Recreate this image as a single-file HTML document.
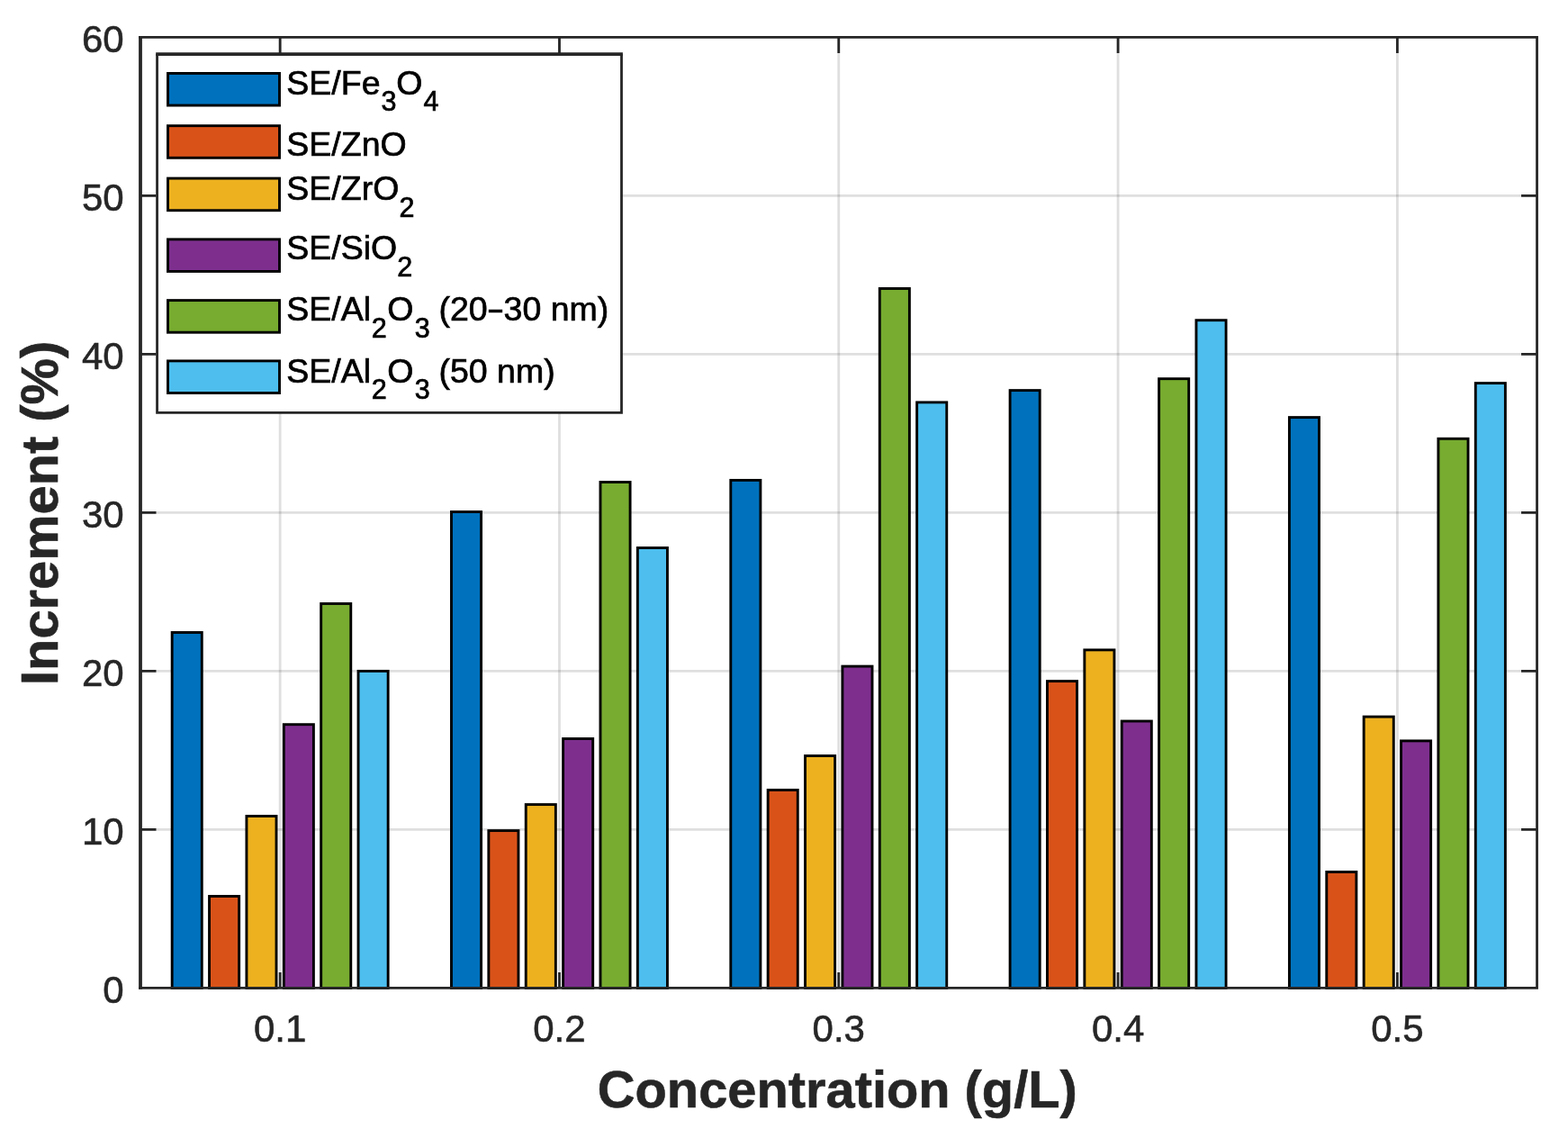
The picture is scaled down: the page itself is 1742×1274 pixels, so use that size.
<!DOCTYPE html>
<html><head><meta charset="utf-8"><title>Increment vs Concentration</title>
<style>html,body{margin:0;padding:0;background:#fff;}svg{display:block;}</style>
</head><body>
<svg width="1742" height="1274" viewBox="0 0 1742 1274">
<rect x="0" y="0" width="1742" height="1274" fill="#ffffff"/>
<path d="M311.15 41.45V1097.45M621.47 41.45V1097.45M931.77 41.45V1097.45M1242.09 41.45V1097.45M1552.39 41.45V1097.45" stroke="#262626" stroke-opacity="0.15" stroke-width="2.8" fill="none"/>
<path d="M156.00 921.45H1707.55M156.00 745.45H1707.55M156.00 569.45H1707.55M156.00 393.45H1707.55M156.00 217.45H1707.55" stroke="#262626" stroke-opacity="0.15" stroke-width="2.8" fill="none"/>
<rect x="191.17" y="702.50" width="33.10" height="394.95" fill="#0072BD" stroke="#000" stroke-width="2.9"/>
<rect x="232.54" y="995.50" width="33.10" height="101.95" fill="#D95319" stroke="#000" stroke-width="2.9"/>
<rect x="273.92" y="906.50" width="33.10" height="190.95" fill="#EDB120" stroke="#000" stroke-width="2.9"/>
<rect x="315.29" y="804.70" width="33.10" height="292.75" fill="#7E2F8E" stroke="#000" stroke-width="2.9"/>
<rect x="356.67" y="670.50" width="33.10" height="426.95" fill="#77AC30" stroke="#000" stroke-width="2.9"/>
<rect x="398.04" y="745.40" width="33.10" height="352.05" fill="#4DBEEE" stroke="#000" stroke-width="2.9"/>
<rect x="501.48" y="568.50" width="33.10" height="528.95" fill="#0072BD" stroke="#000" stroke-width="2.9"/>
<rect x="542.85" y="922.60" width="33.10" height="174.85" fill="#D95319" stroke="#000" stroke-width="2.9"/>
<rect x="584.23" y="893.60" width="33.10" height="203.85" fill="#EDB120" stroke="#000" stroke-width="2.9"/>
<rect x="625.60" y="820.50" width="33.10" height="276.95" fill="#7E2F8E" stroke="#000" stroke-width="2.9"/>
<rect x="666.98" y="535.50" width="33.10" height="561.95" fill="#77AC30" stroke="#000" stroke-width="2.9"/>
<rect x="708.35" y="608.50" width="33.10" height="488.95" fill="#4DBEEE" stroke="#000" stroke-width="2.9"/>
<rect x="811.79" y="533.40" width="33.10" height="564.05" fill="#0072BD" stroke="#000" stroke-width="2.9"/>
<rect x="853.16" y="877.50" width="33.10" height="219.95" fill="#D95319" stroke="#000" stroke-width="2.9"/>
<rect x="894.54" y="839.50" width="33.10" height="257.95" fill="#EDB120" stroke="#000" stroke-width="2.9"/>
<rect x="935.91" y="740.10" width="33.10" height="357.35" fill="#7E2F8E" stroke="#000" stroke-width="2.9"/>
<rect x="977.29" y="320.50" width="33.10" height="776.95" fill="#77AC30" stroke="#000" stroke-width="2.9"/>
<rect x="1018.66" y="446.90" width="33.10" height="650.55" fill="#4DBEEE" stroke="#000" stroke-width="2.9"/>
<rect x="1122.10" y="433.60" width="33.10" height="663.85" fill="#0072BD" stroke="#000" stroke-width="2.9"/>
<rect x="1163.47" y="756.60" width="33.10" height="340.85" fill="#D95319" stroke="#000" stroke-width="2.9"/>
<rect x="1204.85" y="721.90" width="33.10" height="375.55" fill="#EDB120" stroke="#000" stroke-width="2.9"/>
<rect x="1246.22" y="801.00" width="33.10" height="296.45" fill="#7E2F8E" stroke="#000" stroke-width="2.9"/>
<rect x="1287.60" y="420.70" width="33.10" height="676.75" fill="#77AC30" stroke="#000" stroke-width="2.9"/>
<rect x="1328.97" y="355.70" width="33.10" height="741.75" fill="#4DBEEE" stroke="#000" stroke-width="2.9"/>
<rect x="1432.41" y="463.60" width="33.10" height="633.85" fill="#0072BD" stroke="#000" stroke-width="2.9"/>
<rect x="1473.78" y="968.50" width="33.10" height="128.95" fill="#D95319" stroke="#000" stroke-width="2.9"/>
<rect x="1515.16" y="796.10" width="33.10" height="301.35" fill="#EDB120" stroke="#000" stroke-width="2.9"/>
<rect x="1556.53" y="822.90" width="33.10" height="274.55" fill="#7E2F8E" stroke="#000" stroke-width="2.9"/>
<rect x="1597.91" y="487.30" width="33.10" height="610.15" fill="#77AC30" stroke="#000" stroke-width="2.9"/>
<rect x="1639.28" y="425.60" width="33.10" height="671.85" fill="#4DBEEE" stroke="#000" stroke-width="2.9"/>
<path d="M311.15 1097.45V1079.95M311.15 41.45V58.95M621.47 1097.45V1079.95M621.47 41.45V58.95M931.77 1097.45V1079.95M931.77 41.45V58.95M1242.09 1097.45V1079.95M1242.09 41.45V58.95M1552.39 1097.45V1079.95M1552.39 41.45V58.95M156.00 921.45H173.50M1707.55 921.45H1690.05M156.00 745.45H173.50M1707.55 745.45H1690.05M156.00 569.45H173.50M1707.55 569.45H1690.05M156.00 393.45H173.50M1707.55 393.45H1690.05M156.00 217.45H173.50M1707.55 217.45H1690.05" stroke="#262626" stroke-width="2.8" fill="none"/>
<path d="M156.00 40.05V1098.85" stroke="#262626" stroke-width="3.8" fill="none"/>
<path d="M1707.55 40.05V1098.85M154.10 41.45H1708.95M154.10 1097.45H1708.95" stroke="#262626" stroke-width="2.8" fill="none"/>
<g font-family="'Liberation Sans', sans-serif" font-size="42" fill="#262626" stroke="#262626" stroke-width="0.6">
<text x="137.7" y="1113.75" text-anchor="end">0</text>
<text x="137.7" y="937.75" text-anchor="end">10</text>
<text x="137.7" y="761.75" text-anchor="end">20</text>
<text x="137.7" y="585.75" text-anchor="end">30</text>
<text x="137.7" y="409.75" text-anchor="end">40</text>
<text x="137.7" y="233.75" text-anchor="end">50</text>
<text x="137.7" y="57.75" text-anchor="end">60</text>
<text x="311.15" y="1156.85" text-anchor="middle">0.1</text>
<text x="621.47" y="1156.85" text-anchor="middle">0.2</text>
<text x="931.77" y="1156.85" text-anchor="middle">0.3</text>
<text x="1242.09" y="1156.85" text-anchor="middle">0.4</text>
<text x="1552.39" y="1156.85" text-anchor="middle">0.5</text>
</g>
<g font-family="'Liberation Sans', sans-serif" font-size="57.8" font-weight="bold" fill="#262626" stroke="#262626" stroke-width="0.6">
<text x="930.3" y="1229.9" text-anchor="middle">Concentration (g/L)</text>
<text transform="translate(63.9 569.9) rotate(-90)" x="0" y="0" text-anchor="middle">Increment (%)</text>
</g>
<rect x="174.55" y="60.1" width="515.95" height="398.30" fill="#fff"/>
<path d="M173.15 60.10H691.90" stroke="#262626" stroke-width="3.8" fill="none"/>
<path d="M174.55 60.10V459.80M690.50 60.10V459.80M173.15 458.40H691.90" stroke="#262626" stroke-width="2.8" fill="none"/>
<rect x="186.5" y="81.45" width="124.00" height="35.60" fill="#0072BD" stroke="#000" stroke-width="2.9"/>
<rect x="186.5" y="139.70" width="124.00" height="35.60" fill="#D95319" stroke="#000" stroke-width="2.9"/>
<rect x="186.5" y="198.10" width="124.00" height="35.60" fill="#EDB120" stroke="#000" stroke-width="2.9"/>
<rect x="186.5" y="265.85" width="124.00" height="35.60" fill="#7E2F8E" stroke="#000" stroke-width="2.9"/>
<rect x="186.5" y="333.60" width="124.00" height="35.60" fill="#77AC30" stroke="#000" stroke-width="2.9"/>
<rect x="186.5" y="400.90" width="124.00" height="35.60" fill="#4DBEEE" stroke="#000" stroke-width="2.9"/>
<g font-family="'Liberation Sans', sans-serif" fill="#000" stroke="#000" stroke-width="0.7" xml:space="preserve"><text font-size="37.5"><tspan x="318.30" y="104.90">SE/Fe</tspan><tspan x="423.54" y="123.40" font-size="30.5">3</tspan><tspan x="440.22" y="104.90">O</tspan><tspan x="470.50" y="123.40" font-size="30.5">4</tspan></text><text font-size="37.5"><tspan x="318.30" y="172.80">SE/ZnO</tspan></text><text font-size="37.5"><tspan x="318.30" y="222.20">SE/ZrO</tspan><tspan x="443.47" y="241.00" font-size="30.5">2</tspan></text><text font-size="37.5"><tspan x="318.30" y="287.90">SE/SiO</tspan><tspan x="441.37" y="307.00" font-size="30.5">2</tspan></text><text font-size="37.5"><tspan x="318.30" y="356.00">SE/Al</tspan><tspan x="412.67" y="374.70" font-size="30.5">2</tspan><tspan x="430.22" y="356.00">O</tspan><tspan x="460.84" y="374.70" font-size="30.5">3 </tspan><tspan x="487.48" y="356.00">(20</tspan></text><text x="540.75" y="354.90" font-size="37.5" textLength="19.5" lengthAdjust="spacingAndGlyphs">-</text><text font-size="37.5"><tspan x="559.57" y="356.00">30 nm)</tspan></text><text font-size="37.5"><tspan x="318.30" y="424.80">SE/Al</tspan><tspan x="412.67" y="442.80" font-size="30.5">2</tspan><tspan x="430.22" y="424.80">O</tspan><tspan x="460.84" y="442.80" font-size="30.5">3 </tspan><tspan x="487.48" y="424.80">(50 nm)</tspan></text></g>
</svg>
</body></html>
